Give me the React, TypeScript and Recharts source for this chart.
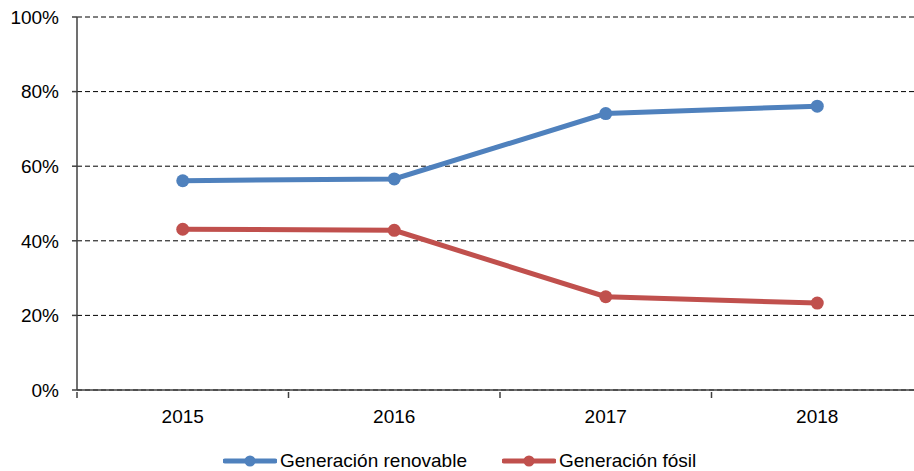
import { CartesianGrid, Legend, Line, LineChart, XAxis, YAxis } from "recharts";

const years = ["2015", "2016", "2017", "2018"];
const renovable = [56.1, 56.6, 74.1, 76.1];
const fosil = [43.1, 42.8, 25.0, 23.3];
const yTicks = [0, 20, 40, 60, 80, 100];

const data = years.map((year, i) => ({ year, renovable: renovable[i], fosil: fosil[i] }));

const BLUE = "#4F81BD";
const RED = "#C0504D";
const FONT = "'Liberation Sans', Arial, sans-serif";
const W = 930;
const H = 471;
const LEFT = 77;
const RIGHT = 7;
const BAND = (W - LEFT - RIGHT) / years.length;

const YearTick = ({ x, y, payload, index }: any) => (
  <g>
    <line x1={x - BAND / 2} x2={x - BAND / 2} y1={y} y2={y + 6} stroke="#404040" strokeWidth={1.5} />
    {index === years.length - 1 && <line x1={x + BAND / 2} x2={x + BAND / 2} y1={y} y2={y + 6} stroke="#404040" strokeWidth={1.5} />}
    <text x={x} y={y + 31} textAnchor="middle" fill="#000" fontSize={19} fontFamily={FONT}>{payload.value}</text>
  </g>
);

const legendItems = [
  { name: "Generación renovable", color: BLUE, left: 223 },
  { name: "Generación fósil", color: RED, left: 502 },
];

const LegendContent = () => (
  <div style={{ position: "relative", height: 31, width: W }}>
    {legendItems.map((item) => (
      <div key={item.name} style={{ position: "absolute", left: item.left, top: 10, display: "flex", alignItems: "center", fontFamily: FONT, fontSize: 19, color: "#000", whiteSpace: "nowrap" }}>
        <svg width={54} height={14}>
          <line x1={2} x2={52} y1={7} y2={7} stroke={item.color} strokeWidth={5} strokeLinecap="round" />
          <circle cx={27} cy={7} r={5.5} fill={item.color} />
        </svg>
        <span style={{ marginLeft: 3 }}>{item.name}</span>
      </div>
    ))}
  </div>
);

export default function App() {
  return (
    <div style={{ position: "fixed", left: 0, top: 0, width: 914, height: 471, overflow: "hidden", background: "#fff" }}>
      <LineChart width={W} height={H} data={data} margin={{ top: 17, right: RIGHT, left: 0, bottom: 0 }}>
        <CartesianGrid horizontal vertical={false} stroke="#000" strokeDasharray="5 3" strokeWidth={1} />
        <XAxis dataKey="year" height={50} padding={{ left: BAND / 2, right: BAND / 2 }} tick={<YearTick />} tickLine={false} tickSize={0} axisLine={{ stroke: "#404040", strokeWidth: 1.5 }} interval={0} />
        <YAxis
          width={LEFT}
          domain={[0, 100]}
          ticks={yTicks}
          tickFormatter={(v) => `${v}%`}
          tick={{ fill: "#000", fontSize: 19, fontFamily: FONT }}
          tickSize={5}
          tickMargin={13}
          tickLine={{ stroke: "#404040", strokeWidth: 1.5 }}
          axisLine={{ stroke: "#404040", strokeWidth: 1.5 }}
        />
        <Legend verticalAlign="bottom" wrapperStyle={{ left: 0 }} content={<LegendContent />} />
        <Line dataKey="renovable" name="Generación renovable" stroke={BLUE} strokeWidth={5} dot={{ r: 6.5, fill: BLUE, stroke: "none" }} isAnimationActive={false} />
        <Line dataKey="fosil" name="Generación fósil" stroke={RED} strokeWidth={5} dot={{ r: 6.5, fill: RED, stroke: "none" }} isAnimationActive={false} />
      </LineChart>
    </div>
  );
}
